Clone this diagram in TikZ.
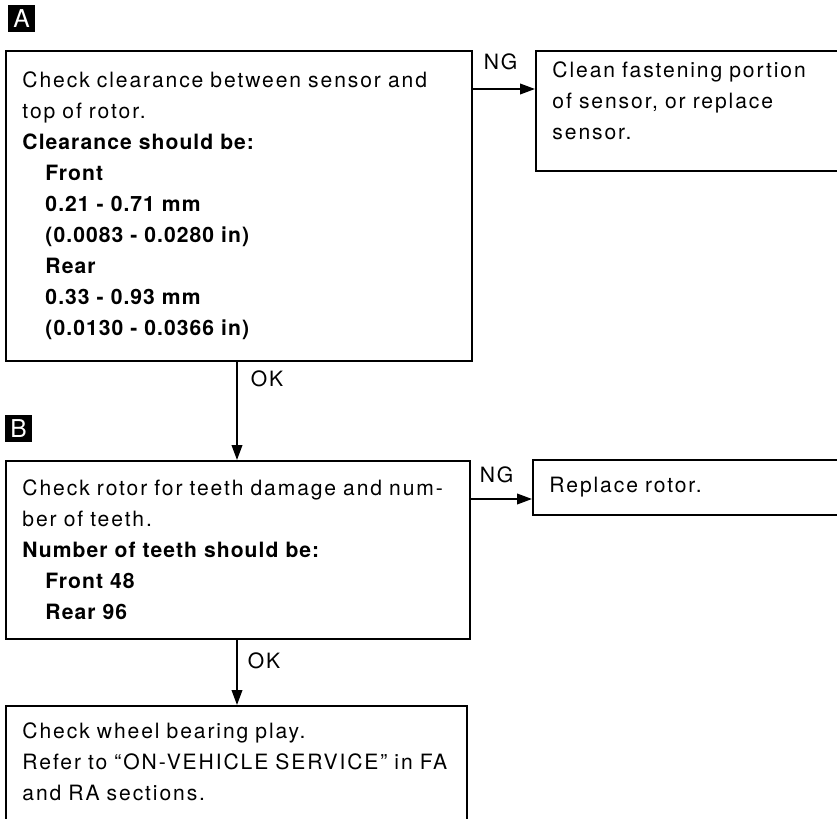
\documentclass[tikz,border=0pt]{standalone}
\usepackage{fontspec}
\setmainfont{TeX Gyre Heros}[LetterSpace=9,WordSpace=1.5,BoldFeatures={LetterSpace=5}]
\usetikzlibrary{calc,arrows.meta}
\tikzset{
  chkbox/.style={rectangle, draw=black, line width=1.4pt, anchor=north west, align=left, inner xsep=0.5cm, inner ysep=0pt, font=\fontsize{18}{26.5}\selectfont},
  flowarrow/.style={-{Triangle[length=4.5mm,width=3.2mm]}, line width=1.4pt, draw=black},
  flowlabel/.style={font=\fontsize{18}{20}\selectfont, inner sep=0pt, anchor=base west},
  stepmark/.style={rectangle, fill=black, text=white, minimum size=0.81cm, inner sep=0pt, font=\fontsize{21}{21}\selectfont},
}
\newcommand{\indnt}{\hspace*{0.69cm}}

\begin{document}
\begin{tikzpicture}[x=0.03cm,y=-0.03cm]
  \useasboundingbox (0,0) rectangle (837,819);

  \node[stepmark] (markA) at (21.5,18.5) {A};
  \node[stepmark] (markB) at (18.5,428.5) {B};

  \node[chkbox, text width=12.99cm, minimum height=9.3cm] (chkA) at (5,50) {Check clearance between sensor and\\ top of rotor.\\ \textbf{Clearance should be:}\\ \indnt\textbf{Front}\\ \indnt\textbf{0.21 - 0.71 mm}\\ \indnt\textbf{(0.0083 - 0.0280 in)}\\ \indnt\textbf{Rear}\\ \indnt\textbf{0.33 - 0.93 mm}\\ \indnt\textbf{(0.0130 - 0.0366 in)}};
  \node[chkbox, text width=8.25cm, minimum height=3.6cm] (ngA) at (535,50) {Clean fastening portion\\ of sensor, or replace\\ sensor.\\[-9pt]\mbox{}};

  \node[chkbox, text width=12.93cm, minimum height=5.34cm] (chkB) at (5,460) {Check rotor for teeth damage and num-\\ ber of teeth.\\ \textbf{Number of teeth should be:}\\ \indnt\textbf{Front 48}\\ \indnt\textbf{Rear 96}};
  \node[chkbox, text width=8.37cm, minimum height=1.65cm] (ngB) at (532,459) {Replace rotor.};

  \node[chkbox, text width=12.84cm, minimum height=3.75cm] (chkC) at (5,705) {Check wheel bearing play.\\ Refer to ``ON-VEHICLE SERVICE'' in FA\\ and RA sections.\\[-15.5pt]\mbox{}};

  \draw[flowarrow] ($(chkA.north east)+(0,39)$) coordinate (a1) -- node[flowlabel, pos=0, xshift=0.3cm, yshift=0.57cm]{NG} (a1 -| ngA.west);
  \draw[flowarrow] ($(chkA.south west)+(232,0)$) coordinate (a2) -- node[flowlabel, pos=0, xshift=0.39cm, yshift=-0.75cm]{OK} (a2 |- chkB.north);
  \draw[flowarrow] ($(chkB.north east)+(0,39)$) coordinate (b1) -- node[flowlabel, pos=0, xshift=0.24cm, yshift=0.51cm]{NG} (b1 -| ngB.west);
  \draw[flowarrow] ($(chkB.south west)+(232,0)$) coordinate (b2) -- node[flowlabel, pos=0, xshift=0.3cm, yshift=-0.87cm]{OK} (b2 |- chkC.north);
\end{tikzpicture}
\end{document}
